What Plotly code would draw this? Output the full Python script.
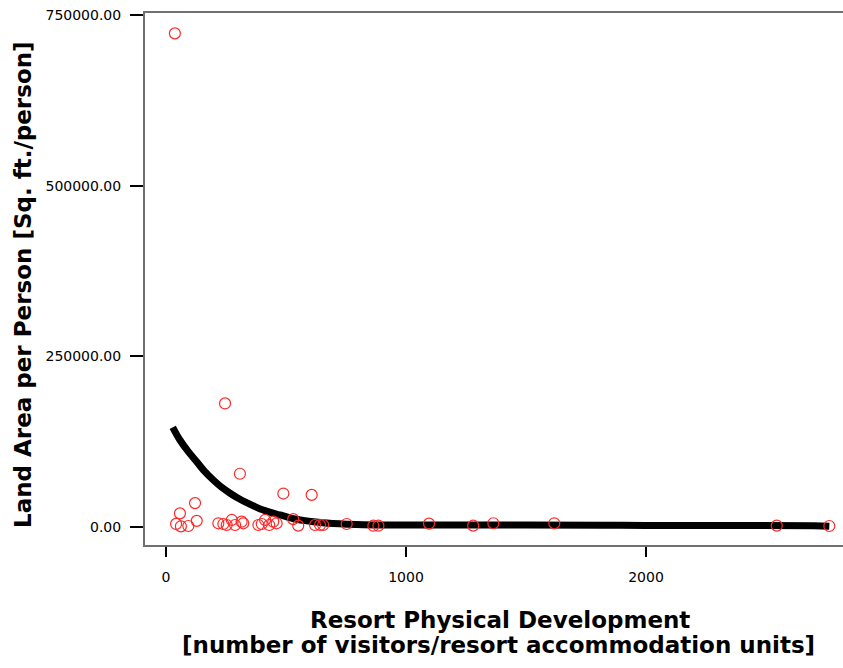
import plotly.graph_objects as go

dev_x = [37, 246, 308, 489, 607, 121, 58, 128,
         42, 62, 93,
         218, 239, 253, 274, 288, 315, 322,
         385, 399, 413, 430, 447, 461,
         530, 551, 621, 642, 655, 753, 864, 885,
         1096, 1280, 1364, 1618, 2545, 2764]
land_y = [723000, 181000, 78000, 49000, 47000, 35000, 20000, 9000,
          4500, 1000, 1500,
          5400, 4400, 2900, 10300, 2900, 7800, 5400,
          2900, 4400, 10300, 2900, 7800, 5400,
          11500, 2000, 2900, 2900, 2900, 4400, 1900, 1900,
          5000, 2000, 5500, 5400, 2000, 1500]

# Fitted curve as drawn
fit_x = [28, 58, 93, 128, 162, 197, 232, 267, 301, 336, 371, 405, 440, 475,
         510, 545, 579, 614, 683, 753, 822, 1000, 1500, 1821, 2000, 2700, 2764]
fit_y = [146000, 127400, 110300, 95600, 81000, 68800, 58100, 49400, 42000,
         35600, 29800, 24900, 21000, 17600, 14200, 11300, 9300, 7800, 5400,
         4200, 3400, 3000, 2800, 2600, 2300, 1800, 1000]

y_ticks = [0, 250000, 500000, 750000]
x_ticks = [0, 1000, 2000]

x_title_1 = "Resort Physical Development"
x_title_2 = "[number of visitors/resort accommodation units]"
y_title = "Land Area per Person [Sq. ft./person]"

fig = go.Figure()
fig.add_trace(go.Scatter(x=fit_x, y=fit_y, mode="lines",
                         line=dict(color="black", width=7, shape="spline"),
                         hoverinfo="skip", showlegend=False))
fig.add_trace(go.Scatter(x=dev_x, y=land_y, mode="markers",
                         marker=dict(symbol="circle-open", size=11,
                                     color="rgb(255,40,40)",
                                     line=dict(width=1.2, color="rgb(255,40,40)")),
                         showlegend=False))

W, H = 843, 668
L, R, T, B = 145, 0, 13, 123
pw, ph = W - L - R, H - T - B

def px_x(p):
    return (p - L) / pw

def px_y(p):
    return (H - B - p) / ph

tick_font = dict(family="DejaVu Sans", size=14, color="black")
title_font = dict(family="DejaVu Sans", size=23, color="black", weight="bold")

fig.update_layout(
    width=W, height=H,
    margin=dict(l=L, r=R, t=T, b=B),
    paper_bgcolor="white", plot_bgcolor="white",
    xaxis=dict(range=[-87.5, 2821], tickvals=x_ticks, ticktext=[str(v) for v in x_ticks],
               showgrid=False, zeroline=False, showline=True, mirror=True,
               linecolor="#707070", linewidth=2,
               ticks="outside", ticklen=10, tickwidth=2, tickcolor="black",
               tickfont=tick_font, ticklabelstandoff=8),
    yaxis=dict(range=[-26360, 752800], tickvals=y_ticks,
               ticktext=[f"{v:.2f}" for v in y_ticks],
               showgrid=False, zeroline=False, showline=True, mirror=False,
               linecolor="#707070", linewidth=2,
               ticks="outside", ticklen=13, tickwidth=2, tickcolor="black",
               tickfont=tick_font, ticklabelstandoff=6),
    annotations=[
        dict(text=x_title_1, xref="paper", yref="paper", x=px_x(500), y=px_y(620),
             xanchor="center", yanchor="middle", showarrow=False, font=title_font),
        dict(text=x_title_2, xref="paper", yref="paper", x=px_x(498), y=px_y(645),
             xanchor="center", yanchor="middle", showarrow=False, font=title_font),
        dict(text=y_title, xref="paper", yref="paper", x=px_x(23), y=px_y(285),
             xanchor="center", yanchor="middle", textangle=-90, showarrow=False,
             font=title_font),
    ],
)

fig.write_html("out.html", config={"displayModeBar": False},
               post_script="document.body.style.margin='0px';document.body.style.overflow='hidden';")
